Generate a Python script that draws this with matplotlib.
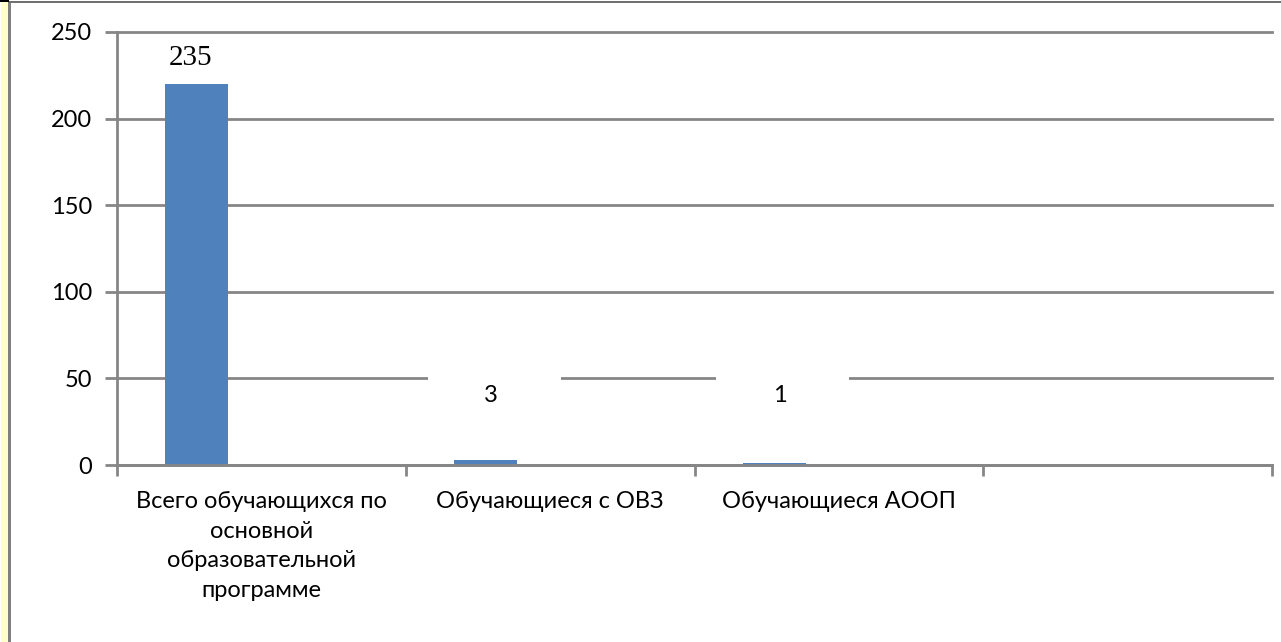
import matplotlib
matplotlib.use('Agg')
import matplotlib.pyplot as plt
from matplotlib.patches import Rectangle
import numpy as np

categories = ['Всего обучающихся по\nосновной\nобразовательной\nпрограмме',
              'Обучающиеся с ОВЗ', 'Обучающиеся АООП', '']
values = [220, 3, 1]
value_labels = ['235', '3', '1']
y_ticks = [0, 50, 100, 150, 200, 250]

BAR_COLOR = '#4F81BD'
GRID_COLOR = '#868686'
FONT = ['Lato', 'DejaVu Sans']

plt.rcParams['font.family'] = FONT

fig = plt.figure(figsize=(12.81, 6.42), dpi=100)
ax = fig.add_axes([117 / 1281, 1 - 465 / 642, (1272 - 117) / 1281, (465 - 32) / 642])

pos = np.arange(len(categories))
bar_x = pos[:len(values)] - 0.224
ax.bar(bar_x, values, width=0.218, color=BAR_COLOR, zorder=1)

ax.set_xlim(-0.5, len(categories) - 0.5)
ax.set_ylim(0, 250)
ax.set_yticks(y_ticks)
ax.set_yticklabels([str(t) for t in y_ticks], fontsize=17)

# category ticks sit on slot boundaries, labels in the middle
ax.set_xticks(np.arange(len(categories) + 1) - 0.5)
ax.set_xticklabels([])
ax.set_xticks(pos, minor=True)
ax.set_xticklabels(categories, minor=True, fontsize=17, linespacing=1.5, va='top')
ax.tick_params(axis='x', which='minor', length=0, pad=19)
ax.tick_params(axis='x', which='major', length=8, width=2, color=GRID_COLOR)
ax.tick_params(axis='y', length=9, width=2, color=GRID_COLOR, pad=9)

ax.grid(axis='y', color=GRID_COLOR, linewidth=2)
ax.set_axisbelow(True)
for gl in ax.get_ygridlines():
    gl.set_clip_on(False)

for side in ('top', 'right'):
    ax.spines[side].set_visible(False)
for side in ('left', 'bottom'):
    ax.spines[side].set_color(GRID_COLOR)
    ax.spines[side].set_linewidth(2)

# data labels with white boxes that cut the gridlines
for x, v, lab in zip(bar_x, values, value_labels):
    ly = max(v + 15, 40)
    if lab == '235':
        ax.text(x - 0.02, ly, lab, ha='center', va='center', fontsize=21,
                family='Liberation Serif', zorder=3)
        ax.add_patch(Rectangle((x - 0.17, ly - 10), 0.60, 22, fc='white',
                               ec='none', zorder=1.5, clip_on=False))
    else:
        ax.text(x + 0.02, ly, lab, ha='center', va='center', fontsize=17, zorder=3)
        ax.add_patch(Rectangle((x - 0.2, ly - 10), 0.46, 22, fc='white',
                               ec='none', zorder=1.5, clip_on=False))

# frame pieces at the picture edge
fig.add_artist(Rectangle((1 / 1281, 0), 7 / 1281, 1, transform=fig.transFigure,
                         fc='#FFFFCC', ec='none'))
fig.add_artist(Rectangle((8 / 1281, 0), 3 / 1281, 1 - 1 / 642, transform=fig.transFigure,
                         fc='#808080', ec='none'))
fig.add_artist(Rectangle((8 / 1281, 1 - 3 / 642), 1, 2 / 642, transform=fig.transFigure,
                         fc='#707070', ec='none'))
fig.add_artist(Rectangle((0, 1 - 2 / 642), 9 / 1281, 2 / 642, transform=fig.transFigure,
                         fc='black', ec='none'))

fig.savefig('out.png', dpi=100)
